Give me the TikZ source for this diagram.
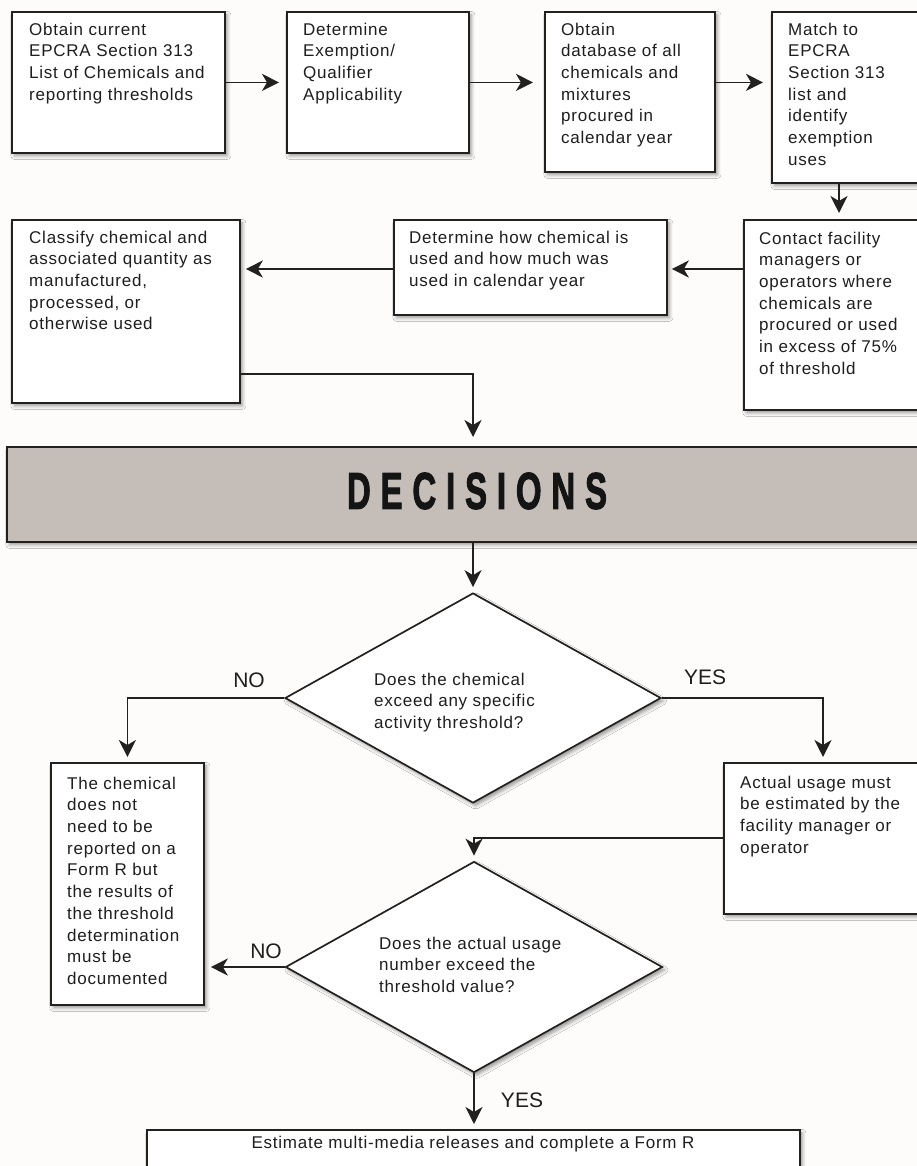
\documentclass[tikz,border=0pt]{standalone}
\usepackage{graphicx}
\usepackage{fontspec}
\setmainfont{Liberation Sans}[LetterSpace=4.5]
\newfontfamily\lblfont{Liberation Sans}
\newfontfamily\decfont{Liberation Sans}[BoldFeatures={FakeBold=2.5}]
\usetikzlibrary{arrows.meta,shapes.geometric,calc,shadows.blur}
\definecolor{bg}{RGB}{253,252,250}
\definecolor{ln}{RGB}{35,33,32}
\definecolor{tx}{RGB}{30,30,30}
\definecolor{bann}{RGB}{196,189,184}
\tikzset{
  shad/.style={blur shadow={shadow xshift=2.5pt, shadow yshift=-3pt, shadow blur radius=3.5pt, shadow opacity=40}},
  box/.style={draw=ln, line width=1.8pt, fill=white, inner sep=0pt, anchor=north west, shad},
  txt/.style={anchor=north west, inner sep=0pt, align=left, text=tx, font=\fontsize{17}{21.7}\selectfont},
  lbl/.style={anchor=base, inner sep=0pt, text=tx, font=\lblfont\fontsize{21}{24}\selectfont},
  arr/.style={draw=ln, line width=1.7pt, -{Stealth[length=17pt,width=17pt,inset=5pt]}, shorten >=5pt},
  dia/.style={diamond, draw=ln, line width=1.7pt, fill=white, inner sep=0pt, shad},
}
\begin{document}
\begin{tikzpicture}[x=1pt,y=-1pt]
\useasboundingbox (0,0) rectangle (917,1166);
\fill[bg] (0,0) rectangle (917,1166);

% top row
\node[box, minimum width=213pt, minimum height=141pt] (b1) at (11,11) {};
\node[box, minimum width=182pt, minimum height=141pt] (b2) at (286,11) {};
\node[box, minimum width=170pt, minimum height=160pt] (b3) at (544,11) {};
\node[box, minimum width=160pt, minimum height=171pt] (b4) at (771,11) {};
\node[txt] (t1) at (29,22.6) {Obtain current\\EPCRA Section 313\\List of Chemicals and\\reporting thresholds};
\node[txt] (t2) at (303,22.6) {Determine\\Exemption/\\Qualifier\\Applicability};
\node[txt] (t3) at (561,22.6) {Obtain\\database of all\\chemicals and\\mixtures\\procured in\\calendar year};
\node[txt] (t4) at (788,22.6) {Match to\\EPCRA\\Section 313\\list and\\identify\\exemption\\uses};

% second row
\node[box, minimum width=228pt, minimum height=183pt] (b5) at (11,219) {};
\node[box, minimum width=273pt, minimum height=95pt] (b6) at (393,219) {};
\node[box, minimum width=190pt, minimum height=190pt] (b7) at (743,219) {};
\node[txt] (t5) at (29,230.6) {Classify chemical and\\associated quantity as\\manufactured,\\processed, or\\otherwise used};
\node[txt] (t6) at (409,230.6) {Determine how chemical is\\used and how much was\\used in calendar year};
\node[txt] (t7) at (759,231.6) {Contact facility\\managers or\\operators where\\chemicals are\\procured or used\\in excess of 75\%\\of threshold};

% banner
\node[box, fill=bann, minimum width=930pt, minimum height=95pt] (dec) at (6,446) {};
\node[inner sep=0pt, text=black!92] (dect) at (477,491) {\resizebox{260pt}{36pt}{\decfont\bfseries D\kern.3em E\kern.3em C\kern.3em I\kern.3em S\kern.3em I\kern.3em O\kern.3em N\kern.3em S}};

% decisions
\node[dia, minimum width=376pt, minimum height=210pt] (d1) at (473,698) {};
\node[txt] (td1) at (374,672.6) {Does the chemical\\exceed any specific\\activity threshold?};
\node[box, minimum width=153pt, minimum height=242pt] (b8) at (50,762) {};
\node[txt] (t8) at (67,776.6) {The chemical\\does not\\need to be\\reported on a\\Form R but\\the results of\\the threshold\\determination\\must be\\documented};
\node[box, minimum width=210pt, minimum height=151pt] (b9) at (723,762) {};
\node[txt] (t9) at (740,775.6) {Actual usage must\\be estimated by the\\facility manager or\\operator};
\node[dia, minimum width=377pt, minimum height=211pt] (d2) at (474,967) {};
\node[txt] (td2) at (379,936.6) {Does the actual usage\\number exceed the\\threshold value?};
\node[box, minimum width=653pt, minimum height=60pt] (b10) at (146,1129) {};
\node[anchor=base, inner sep=0pt, text=tx, font=\fontsize{17}{21.7}\selectfont] (t10) at (473,1148) {Estimate multi-media releases and complete a Form R};

% labels
\node[lbl] (no1) at (249,687) {NO};
\node[lbl] (yes1) at (705,684) {YES};
\node[lbl] (no2) at (266,958) {NO};
\node[lbl] (yes2) at (522,1107) {YES};

% connectors
\coordinate (r2) at (0,269);
\coordinate (p4) at ($(b4.south west)+(68,0)$);
\coordinate (p5) at ($(b5.south east)+(0,-30)$);
\coordinate (p9) at ($(b9.north west)+(100,0)$);
\coordinate (q9) at ($(b9.north west)+(0,76)$);
\draw[arr, shorten >=7pt] (b1.east) -- (b2.west);
\draw[arr, shorten >=11pt] (b2.east) -- (b2.east -| b3.west);
\draw[arr, shorten >=8pt] (b3.east |- b2.east) -- (b2.east -| b4.west);
\draw[arr, shorten >=6pt] (p4) -- (p4 |- b7.north);
\draw[arr, shorten >=4pt] (b7.west |- r2) -- (b6.east |- r2);
\draw[arr, shorten >=5pt] (b6.west |- r2) -- (b5.east |- r2);
\draw[arr, shorten >=9pt] (p5) -| (d1.north |- dec.north);
\draw[arr] (d1.north |- dec.south) -- (d1.north);
\draw[arr] (d1.west) -| (b8.north);
\draw[arr] (d1.east) -| (p9);
\draw[arr] (q9) -| (d2.north);
\draw[arr, shorten >=6pt] (d2.west) -- (d2.west -| b8.east);
\draw[arr] (d2.south) -- (d2.south |- b10.north);
\end{tikzpicture}
\end{document}
